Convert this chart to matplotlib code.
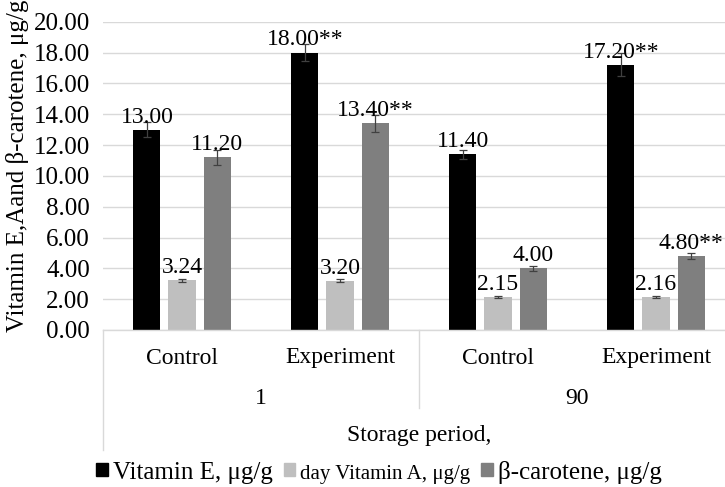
import numpy as np
import matplotlib.pyplot as plt
import matplotlib.transforms as mtransforms
from matplotlib.patches import Patch

plt.rcParams['font.family'] = ['Liberation Serif', 'DejaVu Serif']

# Data
groups = ['Control', 'Experiment', 'Control', 'Experiment']
periods = ['1', '90']
vit_e = [13.00, 18.00, 11.40, 17.20]
vit_a = [3.24, 3.20, 2.15, 2.16]
carotene = [11.20, 13.40, 4.00, 4.80]
vit_e_err = [0.5, 0.55, 0.3, 0.75]
vit_a_err = [0.1, 0.1, 0.07, 0.06]
carotene_err = [0.5, 0.55, 0.15, 0.2]
vit_e_lbl = ['13.00', '18.00**', '11.40', '17.20**']
vit_a_lbl = ['3.24', '3.20', '2.15', '2.16']
carotene_lbl = ['11.20', '13.40**', '4.00', '4.80**']
series_names = ['Vitamin E, μg/g', 'day Vitamin A, μg/g', 'β-carotene, μg/g']
colors = ['#000000', '#BFBFBF', '#7F7F7F']

fig = plt.figure(figsize=(7.25, 4.87), dpi=100)
ax = fig.add_axes([103/725, 1 - 330/487, 632/725, (330 - 21.7)/487])

x = np.arange(len(groups)) + 0.5
w = 0.171
off = 0.222
fs = 17

series = [(vit_e, vit_e_err, vit_e_lbl), (vit_a, vit_a_err, vit_a_lbl),
          (carotene, carotene_err, carotene_lbl)]
for i, (vals, err, lbls) in enumerate(series):
    xs = x + (i - 1) * off
    ax.bar(xs, vals, width=w, color=colors[i], zorder=2)
    ax.errorbar(xs, vals, yerr=err, fmt='none', ecolor='#404040',
                elinewidth=0.9, capsize=3, capthick=0.9, zorder=3)
    for xi, v, t in zip(xs, vals, lbls):
        ax.annotate(t, (xi, v), xytext=(0, 1.5), textcoords='offset points',
                    ha='center', va='bottom', fontsize=fs)

ax.set_xlim(0, 4)
ax.set_ylim(0, 20)
ax.set_yticks(np.arange(0, 21, 2))
ax.set_yticklabels([f'{v:.2f}' for v in np.arange(0, 21, 2)], fontsize=18)
ax.grid(axis='y', color='#D9D9D9', linewidth=1, zorder=0)
ax.set_axisbelow(True)
for s in ax.spines.values():
    s.set_visible(False)
ax.tick_params(axis='both', length=0, pad=9.5)
ax.set_xticks([])

# multi-level category axis drawn below the plot
trans = mtransforms.blended_transform_factory(ax.transData, fig.transFigure)
def fy(py):
    return 1 - py / 487
ax.plot([0, 4], [fy(330), fy(330)], transform=trans, color='#D9D9D9',
        lw=1, clip_on=False)
ax.plot([0, 0], [fy(330), fy(450)], transform=trans, color='#D9D9D9',
        lw=1, clip_on=False)
ax.plot([2, 2], [fy(330), fy(408)], transform=trans, color='#D9D9D9',
        lw=1, clip_on=False)
for xi, g in zip(x, groups):
    fig.text(xi, fy(358), g, transform=trans, ha='center', va='center',
             fontsize=fs)
for xi, p in zip([1, 3], periods):
    fig.text(xi, fy(399), p, transform=trans, ha='center', va='center',
             fontsize=fs)
fig.text(2, fy(436), 'Storage period,', transform=trans, ha='center',
         va='center', fontsize=fs)

fig.text(18/725, fy(166), 'Vitamin E,Aand β-carotene, μg/g', rotation=90,
         ha='center', va='center', fontsize=18)

handles = [Patch(color=c) for c in colors]
leg = fig.legend(handles, series_names, loc='center',
                 bbox_to_anchor=(379/725, fy(472)), ncol=3, frameon=False,
                 fontsize=18, handlelength=0.45, handleheight=0.45,
                 handletextpad=0.2, columnspacing=0.45, borderpad=0,
                 borderaxespad=0)
leg.get_texts()[1].set_fontsize(15)

fig.savefig('out.png', dpi=100)
